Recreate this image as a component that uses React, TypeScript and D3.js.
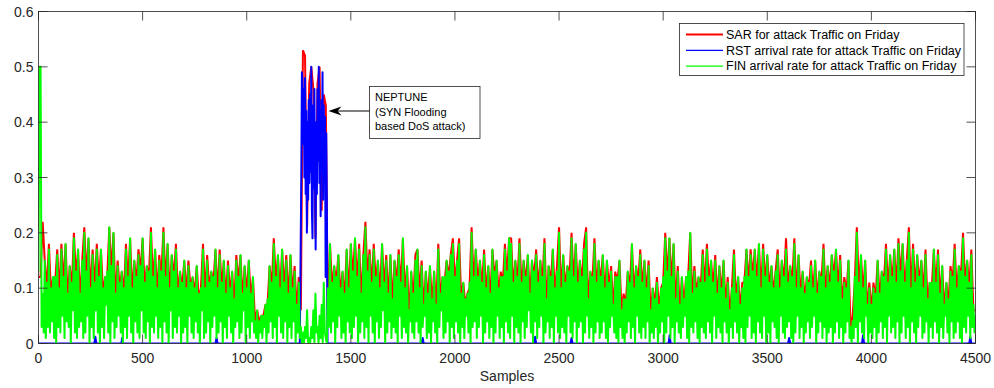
import React from 'react';
import * as d3 from 'd3';

const W = 994;
const H = 388;
const STEP = 10;

// FIN arrival rate (green): local highs at samples 0, 10, 20, ..., 4500
const finPeak = [
  0.13, 0.50, 0.09, 0.15, 0.11, 0.17, 0.10, 0.12, 0.12, 0.16,
  0.10, 0.17, 0.12, 0.18, 0.09, 0.14, 0.11, 0.19, 0.13, 0.17,
  0.09, 0.15, 0.20, 0.13, 0.19, 0.10, 0.16, 0.11, 0.17, 0.12,
  0.17, 0.10, 0.12, 0.13, 0.21, 0.14, 0.20, 0.09, 0.14, 0.11,
  0.13, 0.10, 0.17, 0.12, 0.19, 0.10, 0.15, 0.12, 0.16, 0.14,
  0.19, 0.11, 0.14, 0.13, 0.20, 0.12, 0.17, 0.10, 0.15, 0.13,
  0.20, 0.12, 0.18, 0.10, 0.16, 0.13, 0.17, 0.10, 0.13, 0.11,
  0.15, 0.10, 0.14, 0.11, 0.12, 0.10, 0.14, 0.09, 0.10, 0.17,
  0.10, 0.15, 0.11, 0.13, 0.12, 0.17, 0.10, 0.16, 0.11, 0.15,
  0.09, 0.14, 0.10, 0.13, 0.08, 0.15, 0.12, 0.16, 0.09, 0.14,
  0.10, 0.15, 0.09, 0.12, 0.04, 0.06, 0.04, 0.05, 0.05, 0.07,
  0.08, 0.14, 0.11, 0.18, 0.12, 0.16, 0.10, 0.17, 0.11, 0.15,
  0.09, 0.16, 0.10, 0.13, 0.07, 0.11, 0.03, 0.02, 0.03, 0.06,
  0.01, 0.03, 0.06, 0.09, 0.03, 0.05, 0.07, 0.11, 0.01, 0.10,
  0.18, 0.11, 0.14, 0.12, 0.16, 0.10, 0.13, 0.09, 0.17, 0.10,
  0.18, 0.13, 0.19, 0.12, 0.17, 0.09, 0.16, 0.21, 0.13, 0.16,
  0.11, 0.17, 0.12, 0.15, 0.10, 0.18, 0.11, 0.15, 0.09, 0.16,
  0.08, 0.15, 0.12, 0.16, 0.11, 0.19, 0.10, 0.14, 0.06, 0.13,
  0.09, 0.15, 0.17, 0.10, 0.14, 0.07, 0.13, 0.09, 0.14, 0.08,
  0.13, 0.07, 0.17, 0.09, 0.12, 0.12, 0.15, 0.13, 0.16, 0.18,
  0.12, 0.15, 0.18, 0.09, 0.11, 0.08, 0.09, 0.11, 0.20, 0.12,
  0.17, 0.12, 0.15, 0.11, 0.16, 0.10, 0.14, 0.09, 0.17, 0.13,
  0.15, 0.10, 0.12, 0.12, 0.17, 0.13, 0.19, 0.18, 0.11, 0.15,
  0.12, 0.18, 0.11, 0.15, 0.12, 0.16, 0.09, 0.15, 0.13, 0.16,
  0.11, 0.15, 0.12, 0.18, 0.08, 0.14, 0.12, 0.17, 0.10, 0.13,
  0.20, 0.10, 0.16, 0.11, 0.14, 0.13, 0.19, 0.12, 0.18, 0.11,
  0.15, 0.12, 0.17, 0.20, 0.08, 0.13, 0.12, 0.18, 0.11, 0.15,
  0.12, 0.16, 0.10, 0.15, 0.11, 0.13, 0.07, 0.12, 0.12, 0.15,
  0.06, 0.08, 0.08, 0.13, 0.11, 0.18, 0.10, 0.14, 0.12, 0.16,
  0.11, 0.15, 0.10, 0.14, 0.06, 0.10, 0.08, 0.11, 0.07, 0.10,
  0.12, 0.19, 0.13, 0.19, 0.12, 0.18, 0.08, 0.13, 0.07, 0.12,
  0.08, 0.12, 0.13, 0.20, 0.09, 0.13, 0.10, 0.12, 0.11, 0.16,
  0.11, 0.17, 0.12, 0.15, 0.11, 0.15, 0.09, 0.14, 0.10, 0.15,
  0.08, 0.11, 0.06, 0.10, 0.16, 0.09, 0.12, 0.07, 0.10, 0.12,
  0.17, 0.12, 0.16, 0.13, 0.17, 0.12, 0.18, 0.10, 0.17, 0.12,
  0.16, 0.11, 0.14, 0.10, 0.13, 0.16, 0.10, 0.15, 0.12, 0.17,
  0.11, 0.14, 0.12, 0.18, 0.10, 0.16, 0.10, 0.13, 0.09, 0.12,
  0.11, 0.14, 0.10, 0.15, 0.09, 0.13, 0.12, 0.17, 0.10, 0.14,
  0.11, 0.16, 0.13, 0.17, 0.11, 0.15, 0.08, 0.11, 0.10, 0.15,
  0.03, 0.04, 0.12, 0.20, 0.11, 0.16, 0.10, 0.15, 0.07, 0.10,
  0.07, 0.10, 0.09, 0.15, 0.09, 0.13, 0.12, 0.17, 0.11, 0.16,
  0.12, 0.17, 0.11, 0.18, 0.13, 0.18, 0.11, 0.15, 0.20, 0.10,
  0.17, 0.11, 0.16, 0.12, 0.15, 0.10, 0.16, 0.08, 0.11, 0.11,
  0.17, 0.11, 0.16, 0.09, 0.14, 0.07, 0.11, 0.08, 0.13, 0.12,
  0.17, 0.10, 0.14, 0.13, 0.19, 0.12, 0.15, 0.11, 0.16, 0.07,
  0.05,
];

// FIN arrival rate (green): local lows at samples 5, 15, 25, ..., 4495
const finTrough = [
  0.50, 0.03, 0.02, 0.01, 0.03, 0.02, 0.04, 0.01, 0.00, 0.03,
  0.02, 0.05, 0.01, 0.04, 0.03, 0.00, 0.06, 0.02, 0.01, 0.03,
  0.04, 0.01, 0.02, 0.05, 0.00, 0.03, 0.01, 0.06, 0.02, 0.00,
  0.03, 0.01, 0.07, 0.02, 0.00, 0.04, 0.01, 0.03, 0.05, 0.02,
  0.00, 0.03, 0.01, 0.05, 0.02, 0.00, 0.04, 0.02, 0.01, 0.06,
  0.02, 0.01, 0.04, 0.00, 0.03, 0.02, 0.05, 0.01, 0.03, 0.00,
  0.04, 0.02, 0.00, 0.06, 0.01, 0.03, 0.02, 0.05, 0.00, 0.02,
  0.03, 0.00, 0.05, 0.02, 0.01, 0.04, 0.02, 0.00, 0.06, 0.01,
  0.02, 0.04, 0.00, 0.03, 0.05, 0.01, 0.02, 0.04, 0.00, 0.03,
  0.01, 0.05, 0.02, 0.00, 0.03, 0.04, 0.01, 0.02, 0.06, 0.00,
  0.03, 0.01, 0.04, 0.02, 0.01, 0.00, 0.02, 0.01, 0.03, 0.00,
  0.02, 0.04, 0.01, 0.03, 0.00, 0.05, 0.02, 0.01, 0.04, 0.00,
  0.03, 0.01, 0.04, 0.00, 0.02, 0.01, 0.00, 0.00, 0.01, 0.00,
  0.00, 0.01, 0.00, 0.02, 0.00, 0.01, 0.00, 0.02, 0.00, 0.03,
  0.02, 0.04, 0.00, 0.03, 0.05, 0.01, 0.02, 0.00, 0.04, 0.02,
  0.01, 0.03, 0.05, 0.00, 0.02, 0.04, 0.01, 0.03, 0.00, 0.05,
  0.02, 0.00, 0.04, 0.01, 0.03, 0.06, 0.00, 0.02, 0.04, 0.01,
  0.03, 0.02, 0.00, 0.05, 0.01, 0.03, 0.02, 0.00, 0.04, 0.02,
  0.01, 0.04, 0.02, 0.00, 0.03, 0.05, 0.01, 0.02, 0.00, 0.04,
  0.02, 0.00, 0.03, 0.06, 0.01, 0.02, 0.04, 0.00, 0.03, 0.01,
  0.04, 0.02, 0.00, 0.03, 0.01, 0.05, 0.02, 0.00, 0.03, 0.04,
  0.01, 0.03, 0.05, 0.00, 0.02, 0.04, 0.01, 0.03, 0.00, 0.02,
  0.05, 0.01, 0.03, 0.00, 0.04, 0.02, 0.01, 0.05, 0.00, 0.03,
  0.02, 0.00, 0.04, 0.01, 0.03, 0.06, 0.02, 0.00, 0.04, 0.01,
  0.03, 0.05, 0.00, 0.02, 0.04, 0.01, 0.03, 0.00, 0.05, 0.02,
  0.01, 0.03, 0.02, 0.00, 0.05, 0.02, 0.01, 0.04, 0.00, 0.03,
  0.04, 0.00, 0.02, 0.05, 0.01, 0.03, 0.00, 0.02, 0.04, 0.01,
  0.02, 0.04, 0.01, 0.00, 0.03, 0.05, 0.02, 0.01, 0.00, 0.03,
  0.01, 0.00, 0.02, 0.04, 0.01, 0.03, 0.00, 0.05, 0.02, 0.01,
  0.03, 0.01, 0.04, 0.00, 0.02, 0.01, 0.03, 0.00, 0.02, 0.04,
  0.00, 0.02, 0.05, 0.01, 0.03, 0.00, 0.04, 0.02, 0.01, 0.03,
  0.05, 0.01, 0.00, 0.03, 0.02, 0.04, 0.01, 0.00, 0.03, 0.02,
  0.01, 0.04, 0.02, 0.00, 0.05, 0.01, 0.03, 0.02, 0.00, 0.04,
  0.02, 0.00, 0.03, 0.01, 0.04, 0.02, 0.00, 0.03, 0.01, 0.00,
  0.03, 0.05, 0.01, 0.02, 0.00, 0.04, 0.02, 0.01, 0.05, 0.00,
  0.02, 0.00, 0.04, 0.03, 0.01, 0.00, 0.05, 0.02, 0.01, 0.03,
  0.04, 0.01, 0.00, 0.02, 0.05, 0.01, 0.03, 0.00, 0.02, 0.04,
  0.01, 0.03, 0.05, 0.00, 0.02, 0.04, 0.01, 0.03, 0.00, 0.02,
  0.03, 0.00, 0.02, 0.04, 0.01, 0.03, 0.00, 0.02, 0.04, 0.01,
  0.00, 0.01, 0.03, 0.00, 0.04, 0.02, 0.01, 0.05, 0.00, 0.02,
  0.01, 0.03, 0.00, 0.02, 0.04, 0.01, 0.03, 0.00, 0.05, 0.02,
  0.03, 0.01, 0.04, 0.00, 0.02, 0.05, 0.01, 0.03, 0.00, 0.04,
  0.02, 0.00, 0.03, 0.05, 0.01, 0.02, 0.04, 0.00, 0.03, 0.01,
  0.04, 0.02, 0.00, 0.03, 0.01, 0.05, 0.02, 0.00, 0.04, 0.01,
  0.02, 0.04, 0.01, 0.00, 0.03, 0.02, 0.05, 0.01, 0.03, 0.02,
];

// SAR (red), values at samples 0, 10, 20, ..., 4500
const sarRate = [
  0.12, 0.12, 0.22, 0.15, 0.10, 0.18, 0.09, 0.12, 0.11, 0.17,
  0.09, 0.18, 0.11, 0.18, 0.08, 0.14, 0.10, 0.20, 0.12, 0.17,
  0.08, 0.15, 0.21, 0.12, 0.19, 0.09, 0.17, 0.10, 0.18, 0.11,
  0.17, 0.09, 0.12, 0.12, 0.21, 0.13, 0.20, 0.08, 0.15, 0.10,
  0.13, 0.09, 0.18, 0.11, 0.19, 0.09, 0.15, 0.11, 0.17, 0.13,
  0.19, 0.10, 0.14, 0.12, 0.21, 0.11, 0.17, 0.09, 0.16, 0.12,
  0.21, 0.11, 0.18, 0.09, 0.16, 0.12, 0.18, 0.09, 0.13, 0.10,
  0.15, 0.09, 0.15, 0.10, 0.12, 0.09, 0.14, 0.08, 0.10, 0.18,
  0.09, 0.16, 0.10, 0.13, 0.11, 0.17, 0.09, 0.17, 0.10, 0.15,
  0.08, 0.15, 0.09, 0.13, 0.07, 0.16, 0.11, 0.16, 0.08, 0.14,
  0.09, 0.15, 0.08, 0.12, 0.04, 0.06, 0.04, 0.05, 0.05, 0.07,
  0.07, 0.14, 0.10, 0.19, 0.11, 0.16, 0.09, 0.17, 0.10, 0.16,
  0.08, 0.16, 0.09, 0.14, 0.06, 0.12, 0.06, 0.53, 0.52, 0.21,
  0.47, 0.50, 0.46, 0.19, 0.47, 0.50, 0.24, 0.45, 0.43, 0.03,
  0.18, 0.10, 0.14, 0.11, 0.16, 0.09, 0.13, 0.08, 0.17, 0.09,
  0.18, 0.12, 0.19, 0.11, 0.18, 0.08, 0.16, 0.22, 0.12, 0.17,
  0.10, 0.18, 0.11, 0.15, 0.09, 0.18, 0.10, 0.16, 0.08, 0.16,
  0.07, 0.15, 0.11, 0.17, 0.10, 0.19, 0.09, 0.14, 0.05, 0.13,
  0.08, 0.16, 0.17, 0.09, 0.15, 0.06, 0.13, 0.08, 0.14, 0.07,
  0.13, 0.06, 0.18, 0.08, 0.12, 0.11, 0.15, 0.12, 0.16, 0.19,
  0.11, 0.15, 0.19, 0.08, 0.11, 0.07, 0.09, 0.10, 0.21, 0.11,
  0.17, 0.11, 0.15, 0.10, 0.17, 0.09, 0.14, 0.08, 0.17, 0.12,
  0.15, 0.09, 0.13, 0.11, 0.18, 0.12, 0.19, 0.19, 0.10, 0.15,
  0.11, 0.19, 0.10, 0.15, 0.11, 0.16, 0.08, 0.15, 0.12, 0.17,
  0.10, 0.15, 0.11, 0.19, 0.07, 0.14, 0.11, 0.17, 0.09, 0.14,
  0.21, 0.09, 0.16, 0.10, 0.14, 0.12, 0.20, 0.11, 0.18, 0.10,
  0.15, 0.11, 0.18, 0.21, 0.07, 0.13, 0.11, 0.19, 0.10, 0.15,
  0.11, 0.16, 0.09, 0.15, 0.10, 0.14, 0.06, 0.13, 0.11, 0.15,
  0.06, 0.09, 0.07, 0.13, 0.10, 0.18, 0.09, 0.14, 0.11, 0.17,
  0.10, 0.15, 0.09, 0.15, 0.05, 0.10, 0.07, 0.12, 0.06, 0.10,
  0.11, 0.20, 0.12, 0.19, 0.11, 0.18, 0.07, 0.14, 0.06, 0.12,
  0.07, 0.12, 0.12, 0.20, 0.08, 0.14, 0.09, 0.12, 0.10, 0.17,
  0.10, 0.18, 0.11, 0.15, 0.10, 0.16, 0.08, 0.14, 0.09, 0.15,
  0.07, 0.12, 0.05, 0.10, 0.17, 0.08, 0.12, 0.06, 0.11, 0.11,
  0.17, 0.11, 0.17, 0.12, 0.17, 0.11, 0.18, 0.09, 0.18, 0.11,
  0.16, 0.10, 0.14, 0.09, 0.13, 0.17, 0.09, 0.15, 0.11, 0.19,
  0.10, 0.14, 0.11, 0.19, 0.09, 0.16, 0.09, 0.13, 0.08, 0.12,
  0.10, 0.15, 0.09, 0.15, 0.08, 0.13, 0.11, 0.18, 0.09, 0.14,
  0.10, 0.16, 0.12, 0.17, 0.10, 0.16, 0.07, 0.12, 0.09, 0.15,
  0.03, 0.05, 0.11, 0.21, 0.10, 0.16, 0.09, 0.15, 0.06, 0.11,
  0.06, 0.11, 0.08, 0.15, 0.08, 0.13, 0.11, 0.18, 0.10, 0.16,
  0.11, 0.17, 0.10, 0.19, 0.12, 0.18, 0.10, 0.15, 0.21, 0.09,
  0.18, 0.10, 0.16, 0.11, 0.15, 0.09, 0.17, 0.07, 0.11, 0.10,
  0.17, 0.10, 0.17, 0.08, 0.14, 0.06, 0.11, 0.07, 0.14, 0.11,
  0.18, 0.09, 0.14, 0.12, 0.20, 0.11, 0.15, 0.10, 0.17, 0.06,
  0.06,
];

// RST arrival rate (blue): sample positions and values (zero elsewhere)
const rstSamples = [
  0, 268, 273, 278, 398, 402, 406, 850, 855, 860, 1255,
  1262, 1265, 1268, 1271, 1274, 1277, 1280, 1283, 1286, 1289, 1292, 1295, 1298,
  1301, 1304, 1307, 1310, 1313, 1316, 1319, 1322, 1325, 1328, 1331, 1334, 1337,
  1340, 1343, 1346, 1349, 1352, 1355, 1358, 1361, 1364, 1367, 1370, 1373, 1376,
  1379, 1382, 1385, 1388,
  1840, 1845, 1850, 2380, 2385, 2390, 2555, 2560, 2565, 3026, 3031, 3036,
  3600, 3605, 3610, 3955, 3960, 3965, 4470, 4475, 4480, 4500,
];
const rstRate = [
  0, 0, 0.012, 0, 0, 0.010, 0, 0, 0.010, 0, 0,
  0.30, 0.49, 0.47, 0.36, 0.46, 0.30, 0.48, 0.27, 0.42, 0.20, 0.40, 0.26, 0.44,
  0.29, 0.45, 0.31, 0.50, 0.24, 0.19, 0.43, 0.28, 0.46, 0.30, 0.17, 0.40, 0.27,
  0.46, 0.33, 0.50, 0.29, 0.42, 0.23, 0.44, 0.31, 0.49, 0.26, 0.43, 0.30, 0.41,
  0.12, 0.38, 0.25, 0,
  0, 0.010, 0, 0, 0.012, 0, 0, 0.010, 0, 0, 0.015, 0,
  0, 0.010, 0, 0, 0.015, 0, 0, 0.012, 0, 0,
];

const xTicks = [0, 500, 1000, 1500, 2000, 2500, 3000, 3500, 4000, 4500];
const yTicks = [0, 0.1, 0.2, 0.3, 0.4, 0.5, 0.6];
const yTickLabels = ['0', '0.1', '0.2', '0.3', '0.4', '0.5', '0.6'];
const legendLabels = [
  'SAR for attack Traffic on Friday',
  'RST arrival rate for attack Traffic on Friday',
  'FIN arrival rate for attack Traffic on Friday',
];
const legendColors = ['#ff0000', '#0000ff', '#00ff00'];
const annotationLines = ['NEPTUNE', '(SYN Flooding', 'based DoS attack)'];

const FONT = '"Liberation Sans", Arial, Helvetica, sans-serif';
const AX = '#262626';

type Pt = [number, number];

export default function App() {
  const left = 38.5, right = 975.5, top = 11.5, bottom = 343.5;
  const x = d3.scaleLinear().domain([0, 4500]).range([left, right]);
  const y = d3.scaleLinear().domain([0, 0.6]).range([bottom, top]);

  const line = d3
    .line<Pt>()
    .x((d) => x(d[0]))
    .y((d) => y(d[1]));

  const sarPts: Pt[] = sarRate.map((v, i) => [i * STEP, v]);
  const finPts: Pt[] = [];
  finPeak.forEach((v, i) => {
    finPts.push([i * STEP, v]);
    if (i < finTrough.length) finPts.push([i * STEP + STEP / 2, finTrough[i]]);
  });
  const rstPts: Pt[] = rstSamples.map((s, i) => [s, rstRate[i]]);

  const tick = 9;

  return (
    <svg
      width={W}
      height={H}
      style={{ position: 'absolute', left: 0, top: 0, background: '#fff' }}
      fontFamily={FONT}
    >
      <rect x={0} y={0} width={W} height={H} fill="#fff" />
      <defs>
        <clipPath id="plotclip">
          <rect x={left} y={top} width={right - left} height={bottom - top} />
        </clipPath>
      </defs>
      <g clipPath="url(#plotclip)" fill="none" strokeLinecap="butt">
        <path d={line(sarPts) || ''} stroke="#ff0000" strokeWidth={2} strokeLinejoin="bevel" />
        <path d={line(rstPts) || ''} stroke="#0000ff" strokeWidth={2} strokeLinejoin="round" />
        <path d={line(finPts) || ''} stroke="#00ff00" strokeWidth={2} strokeLinejoin="round" />
      </g>

      {/* axes box */}
      <rect x={left} y={top} width={right - left} height={bottom - top} fill="none" stroke={AX} strokeWidth={0.8} />
      {xTicks.map((t) => (
        <g key={'x' + t}>
          <line x1={x(t)} x2={x(t)} y1={bottom} y2={bottom - tick} stroke={AX} strokeWidth={0.8} />
          <line x1={x(t)} x2={x(t)} y1={top} y2={top + tick} stroke={AX} strokeWidth={0.8} />
          <text x={x(t)} y={bottom + 19} textAnchor="middle" fontSize={14} fill={AX}>
            {t}
          </text>
        </g>
      ))}
      {yTicks.map((t, i) => (
        <g key={'y' + t}>
          <line x1={left} x2={left + tick} y1={y(t)} y2={y(t)} stroke={AX} strokeWidth={0.8} />
          <line x1={right} x2={right - tick} y1={y(t)} y2={y(t)} stroke={AX} strokeWidth={0.8} />
          <text x={left - 5} y={y(t) + 5} textAnchor="end" fontSize={14} fill={AX}>
            {yTickLabels[i]}
          </text>
        </g>
      ))}
      <text x={(left + right) / 2} y={381} textAnchor="middle" fontSize={14} fill={AX}>
        Samples
      </text>

      {/* legend */}
      <rect x={679.5} y={23.5} width={284.5} height={52} fill="#fff" stroke={AX} strokeWidth={0.8} />
      {legendLabels.map((lab, i) => (
        <g key={lab}>
          <line x1={686} x2={723} y1={34.5 + i * 15.8} y2={34.5 + i * 15.8} stroke={legendColors[i]} strokeWidth={i === 0 ? 2 : 1.2} />
          <text x={726} y={34.5 + i * 15.8 + 4.3} fontSize={12.5} fill="#000">
            {lab}
          </text>
        </g>
      ))}

      {/* annotation */}
      <rect x={369.5} y={86.5} width={110.5} height={52} fill="#fff" stroke={AX} strokeWidth={0.8} />
      {annotationLines.map((l, i) => (
        <text key={l} x={375} y={101 + i * 14.5} fontSize={11} fill="#000">
          {l}
        </text>
      ))}
      <line x1={369.5} x2={336} y1={111} y2={111} stroke="#000" strokeWidth={1} />
      <path d="M328.5,111 L341.5,106.5 L337.5,111 L341.5,115.5 Z" fill="#000" />
    </svg>
  );
}
